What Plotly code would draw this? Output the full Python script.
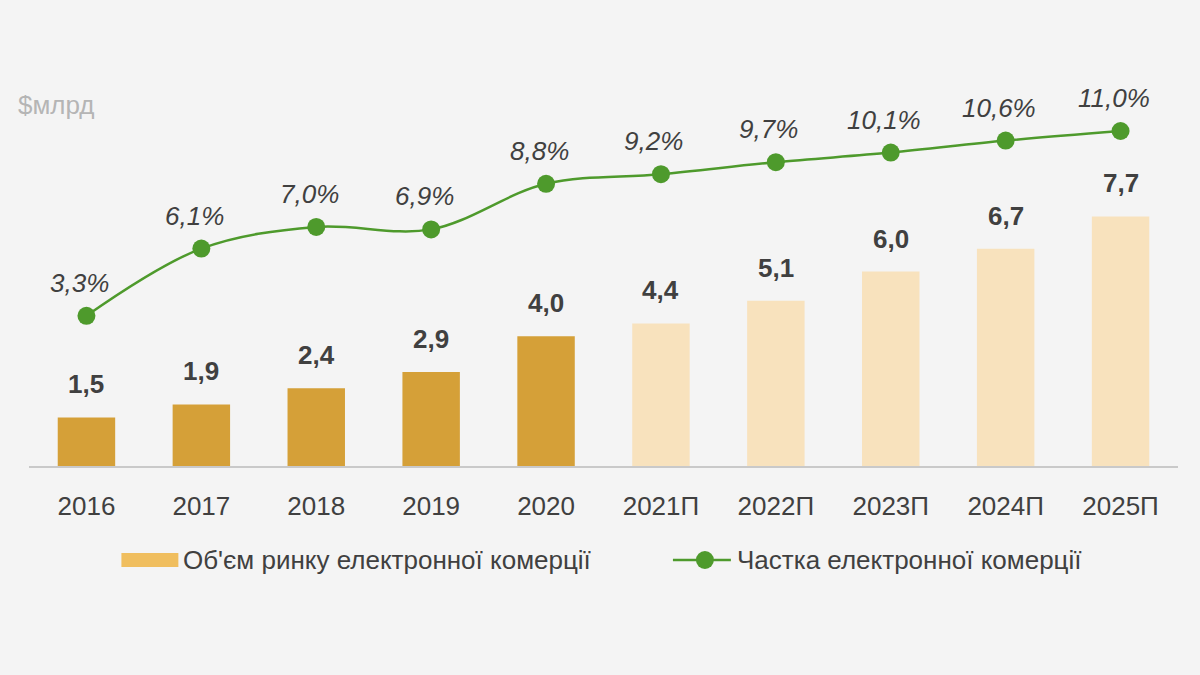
import plotly.graph_objects as go

years = ["2016", "2017", "2018", "2019", "2020", "2021П", "2022П", "2023П", "2024П", "2025П"]
market = [1.5, 1.9, 2.4, 2.9, 4.0, 4.4, 5.1, 6.0, 6.7, 7.7]
market_labels = ["1,5", "1,9", "2,4", "2,9", "4,0", "4,4", "5,1", "6,0", "6,7", "7,7"]
share = [3.3, 6.1, 7.0, 6.9, 8.8, 9.2, 9.7, 10.1, 10.6, 11.0]
share_labels = ["3,3%", "6,1%", "7,0%", "6,9%", "8,8%", "9,2%", "9,7%", "10,1%", "10,6%", "11,0%"]
forecast = [False, False, False, False, False, True, True, True, True, True]

bar_name = "Об'єм ринку електронної комерції"
line_name = "Частка електронної комерції"

HIST = "#D5A038"
FCST = "#F8E2BD"
LEG_BAR = "#F0BE5E"
GREEN = "#4E9A2C"
TXT = "#404040"
FONT = "Liberation Sans, Arial, sans-serif"

fig = go.Figure()
fig.add_trace(go.Bar(
    x=years, y=market, width=0.5,
    marker=dict(color=[FCST if f else HIST for f in forecast], line=dict(width=0)),
    showlegend=False, hoverinfo="skip"))
fig.add_trace(go.Scatter(
    x=years, y=share, yaxis="y2", mode="lines+markers",
    line=dict(color=GREEN, width=2.5, shape="spline", smoothing=1.0),
    marker=dict(color=GREEN, size=18),
    showlegend=False, hoverinfo="skip"))

annotations = []
for i, (v, t) in enumerate(zip(market, market_labels)):
    annotations.append(dict(x=i, y=v, xref="x", yref="y", text=t, showarrow=False,
                            yanchor="bottom", yshift=16,
                            font=dict(family=FONT, size=26, color=TXT, weight="bold")))
for i, (v, t) in enumerate(zip(share, share_labels)):
    annotations.append(dict(x=i, y=v, xref="x", yref="y2", text="<i>" + t + "</i>", showarrow=False,
                            yanchor="bottom", yshift=16, xshift=-7,
                            font=dict(family=FONT, size=26, color=TXT)))

# legend (manual) in paper coordinates
L, W = 28.5, 1150.0
T, H = 80.0, 386.0
def px(x):
    return (x - L) / W
def py(y):
    return (T + H - y) / H

annotations.append(dict(x=px(15), y=py(105), xref="paper", yref="paper", text="$млрд",
                        showarrow=False, xanchor="left", yanchor="middle",
                        font=dict(family=FONT, size=26, color="#B5B5B5")))
annotations.append(dict(x=px(181), y=py(560), xref="paper", yref="paper", text=bar_name,
                        showarrow=False, xanchor="left", yanchor="middle",
                        font=dict(family=FONT, size=26, color=TXT)))
annotations.append(dict(x=px(735), y=py(560), xref="paper", yref="paper", text=line_name,
                        showarrow=False, xanchor="left", yanchor="middle",
                        font=dict(family=FONT, size=26, color=TXT)))

shapes = [
    dict(type="rect", xref="paper", yref="paper", x0=px(121), x1=px(178), y0=py(567), y1=py(553),
         fillcolor=LEG_BAR, line=dict(width=0)),
    dict(type="line", xref="paper", yref="paper", x0=px(673), x1=px(731), y0=py(560), y1=py(560),
         line=dict(color=GREEN, width=2.5)),
    dict(type="circle", xref="paper", yref="paper", x0=px(696), x1=px(714), y0=py(569), y1=py(551),
         fillcolor=GREEN, line=dict(width=0)),
]

fig.update_layout(
    width=1200, height=675,
    margin=dict(l=28.5, r=21.5, t=80, b=209),
    paper_bgcolor="#F4F4F4", plot_bgcolor="#F4F4F4",
    barmode="overlay",
    showlegend=False,
    xaxis=dict(type="category", range=[-0.5, 9.5], showgrid=False, zeroline=False,
               showline=True, linecolor="#C9C9C9", linewidth=2, ticks="",
               tickfont=dict(family=FONT, size=26, color=TXT), ticklabelstandoff=16),
    yaxis=dict(range=[0, 11.91], showgrid=False, zeroline=False, showticklabels=False, showline=False),
    yaxis2=dict(range=[-2.96, 13.125], overlaying="y", side="right", showgrid=False,
                zeroline=False, showticklabels=False, showline=False),
    annotations=annotations,
    shapes=shapes,
)

fig.write_html("out.html", config={"displayModeBar": False},
               post_script="document.body.style.margin='0';document.body.style.background='#F4F4F4';")
